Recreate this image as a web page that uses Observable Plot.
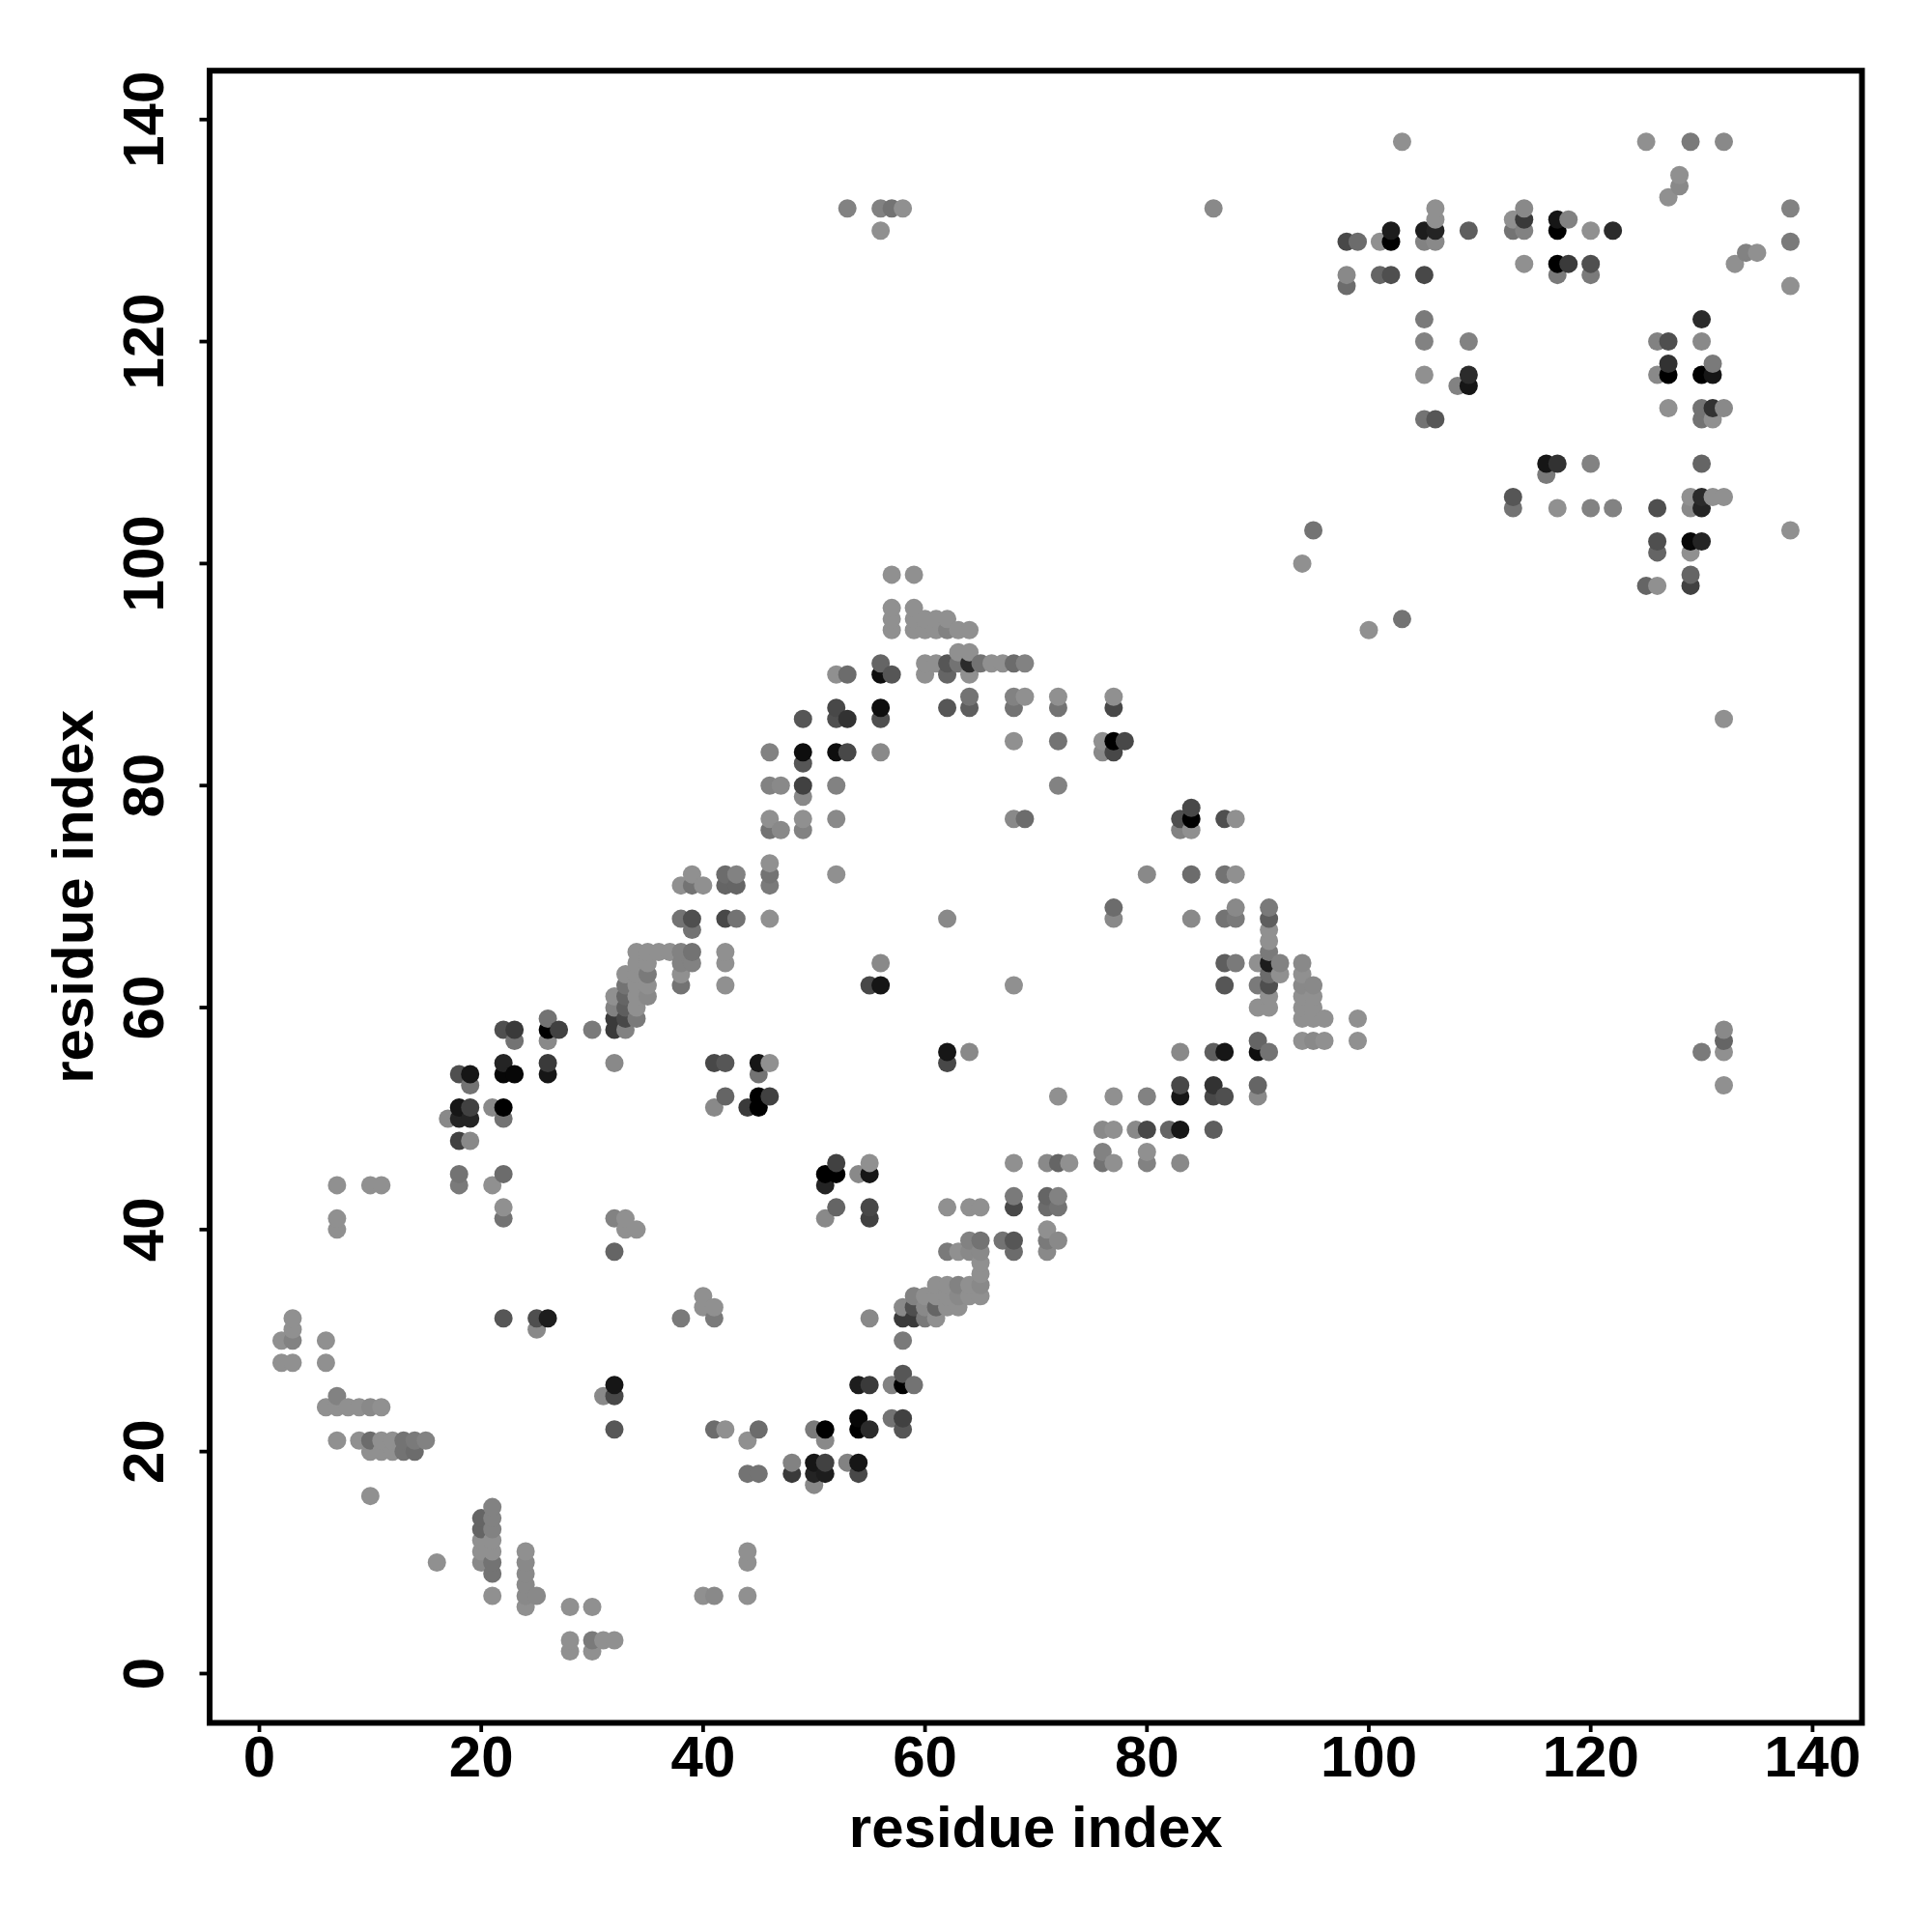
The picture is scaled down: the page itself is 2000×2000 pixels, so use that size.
<!DOCTYPE html>
<html>
<head>
<meta charset="utf-8">
<style>html,body{margin:0;padding:0;background:#fff}svg{display:block}</style>
<script src="https://cdn.jsdelivr.net/npm/d3@7"></script>
<script src="https://cdn.jsdelivr.net/npm/@observablehq/plot@0.6"></script>
</head>
<body>
<div id="chart"></div>
<script>
const axisTitle = "residue index";
const tickValues = [0, 20, 40, 60, 80, 100, 120, 140];
const rowY = [2,3,6,7,8,9,10,11,12,13,14,15,16,17,18,19,20,21,22,23,24,25,26,27,28,30,31,32,33,34,35,36,37,38,39,40,41,42,43,44,45,46,47,48,49,50,51,52,53,54,55,56,57,58,59,60,61,62,63,64,65,66,67,68,69,71,72,73,76,77,78,79,80,82,83,84,86,87,88,90,91,92,94,95,96,98,99,100,101,102,103,105,106,108,109,113,114,116,117,118,120,122,125,126,127,128,129,130,131,132,133,134,135,138];
const rowX = [
[28,30],[28,30,31,32],[24,28,30],[21,24,25,40,41,44],[24],[21,24],[16,20,21,24,44],[20,21,24,44],[20,21],[20,21],[20,21],[21],[10],[50],
[44,45,48,50,51,54],[48,50,51,53,54],[10,11,12,13,14],[7,9,10,11,12,13,14,15,44,51],[32,41,42,45,50,51,54,55,58],[54,57,58],[6,7,8,9,10,11],[7,31,32],
[32,54,55,57,58,59],[58],[2,3,6],[2,3,6,58],[3,25],[3,22,25,26,38,41,55,58,59,60,61],[40,41,58,59,60,61,62,63],[40,59,60,61,62,63,64,65],[61,62,63,64,65],[65],[65],
[32,62,63,64,65,68,71],[64,65,67,68,71,72],[7,33,34,71],[7,22,32,33,51,55],[22,52,55,62,64,65,68,71,72],[68,71,72],[7,10,11,18,21,51],[18,22,51,52,54,55],
[52,55,68,71,72,73,76,77,80,83],[76,80],[18,19],[76,77,79,80,82,83,86],[17,18,19,22],[18,19,21,22,41,44,45],[42,45,46,72,77,80,83,86,87,90],[19,83,86,90,132],
[18,19,22,23,26,45],[22,26,32,41,42,45,46,62],[62,64,83,86,87,90,91,130,132],[23,26,90,94,95,96,99,132],[22,23,26,27,30,32,33,132],[26,32,33,34,94,95,96,99],
[32,33,34,90,91,94,95],[32,33,34,35,91,94,95],[33,34,35,38,42,55,56,68,87,90,91,94,95],[33,34,35,38,91,92,94],[34,35,38,39,42,56,87,88,90,91,92,94],[34,35,36,37,38,39,42,91],
[91],[39,91],[38,39,42,43,46,62,77,84,87,88,91],[77,88,91],[38,39,40,42,43,46],[39,42,43,46,52,80,84,87,88],[46],[46,47,49,83,84],[46,49,52,68,69,83,84,87,88],[84],[49],
[46,47,49,52,72],[49],[46,49,52,53,56,76,77],[68,72,76,77,78],[49,52,53,56,132],[52,56,62,64,68,72,77],[64,68,69,72,77],[52,53,56,57,60,62,64],[56,60,61,62,63,64,65,66,67,68,69],
[63,64],[57,59,60,61,62,63,64,100],[57,59,60,61,62,103],[57,59],[125,126,129],[57,59,129],[94],[126,129],[126,129,130],[95,138],[113,117,120,122,126,129,130],[113,129,130,131,132],
[116],[116,117,120,130],[105,106,130,131],[127,130,131,132],[108,109],[105,109,126,127,130,131],[127,131],[105,109,126,127,130],[105,130],[98,138],[98,101,102,105,117,120],
[114,117,118,120,133],[134,135],[98,99,101,102,105,106,138],[56,102,105,106,109,113,114,117,120,122],[106,113,114,117,118],[53,56,57,58,86,106,114,138],[127],[128],[128],[103,125,129,132]
];
const rowStrength = [
[0,0],[0,.15,0,0],[0,0,0],[0,.05,.05,0,.05,0],[.05],[.2,.05],[0,.05,.2,.05,0],[0,0,0,0],[0,0],[.3,.1],[.3,.1],[.1],[0],[.05],
[.2,.2,.6,.75,.8,.5],[.1,.85,.55,.1,.85],[0,0,0,.2,.25],[0,0,.25,0,0,.2,.15,.1,0,.05],[.4,.25,0,.25,.15,1,1,.7,.4],[.95,.2,.55],[0,0,0,0,.05,0],[.1,.05,.5],
[.85,.8,.6,.1,1,.2],[.4],[0,0,0],[0,.1,0,.15],[0,.05],[0,.4,.45,.8,.15,.15,.05,.6,.6,.15,0],[0,0,.05,.45,.05,.3,0,0],[0,.1,0,0,0,.05,0,0],[0,0,.1,0,.05],[0],[0],
[.3,.15,0,.05,.05,.25,.05],[.1,.2,.2,.4,.15,.05],[0,0,0,0],[0,.2,.1,0,.05,.55],[0,.3,.5,0,0,0,.5,.25,.2],[.15,.3,.1],[0,0,0,.15,0,.75],[.2,.25,1,1,.05,.85],
[.55,0,0,.05,.3,0,.2,0,.1,.05],[.1,0],[.55,.05],[.05,0,.05,.5,.3,.85,.35],[.05,.75,.75,.2],[.85,.55,.05,1,.05,.6,1],[.3,1,.55,0,0,.1,.85,.5,.45,.05],[.2,.5,.65,.3,0],
[.45,.85,.95,.95,.85,.2],[.75,.6,.05,.5,.4,.85,0,.5],[.85,.05,.05,.35,.85,.9,.2,.15,0],[.2,.05,.3,0,.05,0,0,.3],[.45,.6,1,.55,.15,.6,.1,.05],[.2,.6,.5,.15,0,0,0,0],
[.1,.35,0,0,0,0,0],[0,.3,0,.05,0,0,0],[.2,0,0,.2,0,.5,.85,0,.4,.15,.45,.05,.05],[0,0,.15,0,.25,0,0],[0,0,.1,.1,0,.05,.35,.15,0,.8,.1,.05],[0,0,0,0,.1,.2,0,.15],
[0],[.2,0],[.2,.45,.5,.2,0,.05,.05,.05,.2,.15,.35],[.25,.05,.15],[0,.2,0,.3,.3,.15],[0,.25,.1,.2,0,.05,.25,.2,0],[0],[.2,.05,.1,.1,0],[0,0,.05,.05,.25,.45,1,.45,0],[.5],[.05],
[.1,.05,.55,.1,.1],[.4],[.1,.9,.9,.5,.05,.05,.5],[0,.2,0,1,.5],[.4,.45,.65,.45,0],[.5,.9,.4,.35,.2,.2,.5],[.2,.1,0,0,0],[0,.25,.9,.4,0,.3,0],[.3,0,0,.4,.2,.7,.2,0,0,.25,.1],
[0,0],[0,0,0,0,.1,0,0,0],[0,0,0,0,0,.2],[0,0],[.3,0,.55],[0,0,.3],[0],[.3,0],[.45,.95,.75],[.2,0],[.2,0,.1,.1,.45,.05,.75],[.4,0,.7,0,0],
[.15],[.85,.65,.1,.3],[.2,.4,.2,0],[0,.2,.65,.05],[.1,.85],[0,.7,.05,1,1,.85],[.65,.15],[.1,.1,.1,.45,.05],[.15,.7],[.25,0],[.05,.3,.45,.5,.15,.15],
[0,1,.6,.45,0],[.1,0],[.5,.25,0,1,.1,.05,.15],[0,.8,.8,.75,.35,.2,.1,1,0,.7],[0,0,.6,.85,.1],[.1,.1,.2,0,.05,0,.05,.1],[0],[.05],[0],[0,0,.15,.05]
];

const contacts = d3.sort(
  rowY.flatMap((y, r) => rowX[r].map((x, c) => ({x, y, strength: rowStrength[r][c]}))),
  d => d.x, d => d.y
);

const textStyle = {fontSize: 60, fontWeight: "bold", fontFamily: "Liberation Sans, Arial, sans-serif"};

const chart = Plot.plot({
  width: 2000,
  height: 2000,
  marginLeft: 216.5,
  marginRight: 73,
  marginTop: 72.7,
  marginBottom: 217,
  x: {domain: [-4.484, 144.45]},
  y: {domain: [-4.44, 144.4]},
  color: {type: "linear", domain: [0, 1], range: ["#909090", "#000000"]},
  style: {background: "#fff", color: "#000", ...textStyle},
  marks: [
    Plot.dot(contacts, {x: "x", y: "y", r: 9.5, fill: "strength"}),
    Plot.axisX({
      ticks: tickValues, tickSize: 10, strokeWidth: 3.8, tickPadding: 3, ...textStyle,
      label: axisTitle, labelAnchor: "center", labelArrow: "none", labelOffset: 128
    }),
    Plot.axisY({
      ticks: tickValues, tickSize: 10, strokeWidth: 3.8, tickRotate: -90, tickPadding: 38, ...textStyle,
      label: axisTitle, labelAnchor: "center", labelArrow: "none", labelOffset: 164
    }),
    Plot.frame({stroke: "#000", strokeWidth: 6})
  ]
});
document.getElementById("chart").append(chart);
</script>
</body>
</html>
